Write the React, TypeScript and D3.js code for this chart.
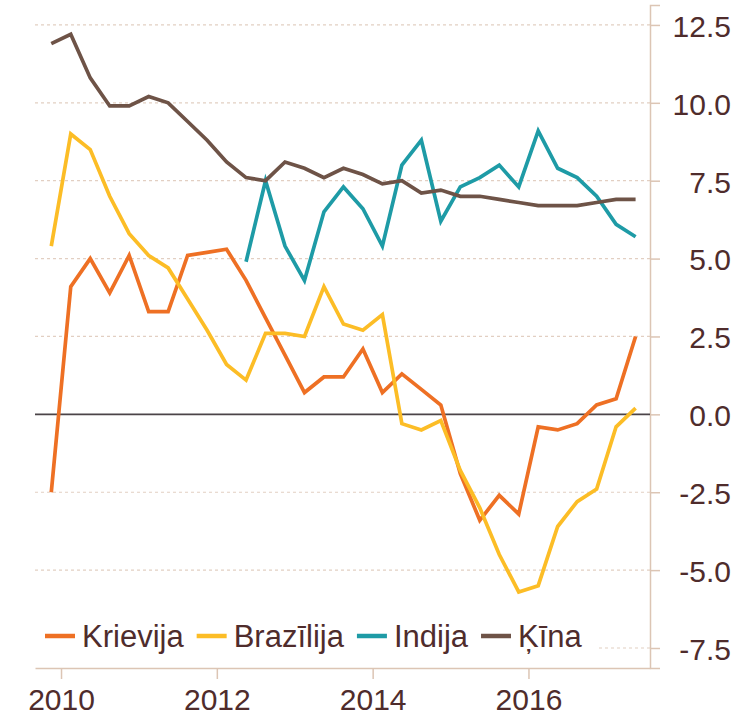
import React, { useEffect, useRef } from "react";
import * as d3 from "d3";

// quarterly GDP growth, % y/y, 2009Q4 .. 2017Q2
const quarters = [
  "2009Q4", "2010Q1", "2010Q2", "2010Q3", "2010Q4", "2011Q1", "2011Q2", "2011Q3", "2011Q4",
  "2012Q1", "2012Q2", "2012Q3", "2012Q4", "2013Q1", "2013Q2", "2013Q3", "2013Q4",
  "2014Q1", "2014Q2", "2014Q3", "2014Q4", "2015Q1", "2015Q2", "2015Q3", "2015Q4",
  "2016Q1", "2016Q2", "2016Q3", "2016Q4", "2017Q1", "2017Q2",
];

const russia = [-2.5, 4.1, 5.0, 3.9, 5.1, 3.3, 3.3, 5.1, 5.2, 5.3, 4.3, 3.1, 1.9, 0.7, 1.2, 1.2,
  2.1, 0.7, 1.3, 0.8, 0.3, -1.9, -3.4, -2.6, -3.2, -0.4, -0.5, -0.3, 0.3, 0.5, 2.5];
const brazil = [5.4, 9.0, 8.5, 7.0, 5.8, 5.1, 4.7, 3.7, 2.7, 1.6, 1.1, 2.6, 2.6, 2.5, 4.1, 2.9,
  2.7, 3.2, -0.3, -0.5, -0.2, -1.8, -3.0, -4.5, -5.7, -5.5, -3.6, -2.8, -2.4, -0.4, 0.2];
const india = [null, null, null, null, null, null, null, null, null, null,
  4.9, 7.5, 5.4, 4.3, 6.5, 7.3, 6.6, 5.4, 8.0, 8.8, 6.2, 7.3, 7.6, 8.0, 7.3, 9.1, 7.9, 7.6, 7.0, 6.1, 5.7];
const china = [11.9, 12.2, 10.8, 9.9, 9.9, 10.2, 10.0, 9.4, 8.8, 8.1, 7.6, 7.5, 8.1, 7.9, 7.6, 7.9,
  7.7, 7.4, 7.5, 7.1, 7.2, 7.0, 7.0, 6.9, 6.8, 6.7, 6.7, 6.7, 6.8, 6.9, 6.9];

const seriesNames = ["Krievija", "Brazīlija", "Indija", "Ķīna"];
const seriesColors = ["#ee7024", "#fcbd26", "#1e9ba6", "#6e5347"];
const yTicks = [12.5, 10, 7.5, 5, 2.5, 0, -2.5, -5, -7.5];
const xTicks = [2010, 2012, 2014, 2016];

const W = 736;
const H = 714;
const FONT = "'Liberation Sans', Arial, sans-serif";
const TEXT = "#4f2c2c";
const AXIS = "#dcc5b4";

export default function App() {
  const ref = useRef<SVGSVGElement>(null);

  useEffect(() => {
    const svg = d3.select(ref.current);
    svg.selectAll("*").remove();

    const left = 35, right = 650, top = 5, bottom = 668;

    const toTime = (q: string) => +q.slice(0, 4) + (+q.slice(5) - 0.5) / 4;

    const x = d3.scaleLinear().domain([2009.666, 2017.56]).range([left, right]);
    const y = d3.scaleLinear().domain([-8.142, 13.14]).range([bottom, top]);

    const fmt = (d: any) => d3.format(".1f")(d).replace("\u2212", "-");

    // grid
    svg.append("g")
      .selectAll("line")
      .data(yTicks.filter(d => d !== 0))
      .join("line")
      .attr("x1", left).attr("x2", right)
      .attr("y1", d => y(d)).attr("y2", d => y(d))
      .attr("stroke", "#e2cfc2")
      .attr("stroke-width", 1.2)
      .attr("stroke-dasharray", "3,3");

    // right axis
    const ya = svg.append("g").attr("transform", `translate(${right},0)`)
      .call(d3.axisRight(y).tickValues(yTicks).tickSize(10).tickPadding(0).tickFormat(fmt));
    ya.select(".domain").attr("stroke", AXIS).attr("stroke-width", 1.5);
    ya.selectAll(".tick line").attr("stroke", AXIS).attr("stroke-width", 1.5);
    ya.selectAll(".tick text")
      .attr("x", 81).attr("dy", "0.38em")
      .attr("text-anchor", "end")
      .attr("fill", TEXT)
      .style("font-family", FONT).style("font-size", "30px");

    // bottom axis
    const xa = svg.append("g").attr("transform", `translate(0,${bottom})`)
      .call(d3.axisBottom(x).tickValues(xTicks).tickSize(11).tickSizeOuter(0).tickPadding(10).tickFormat(d3.format("d")));
    xa.select(".domain").attr("stroke", AXIS).attr("stroke-width", 1.5);
    xa.selectAll(".tick line").attr("stroke", AXIS).attr("stroke-width", 1.5);
    xa.selectAll(".tick text")
      .attr("fill", TEXT)
      .style("font-family", FONT).style("font-size", "30px");

    // zero line
    svg.append("line")
      .attr("x1", left).attr("x2", right)
      .attr("y1", y(0)).attr("y2", y(0))
      .attr("stroke", "#4b4448").attr("stroke-width", 1.6);

    const allSeries = [russia, brazil, india, china];
    const line = d3.line<any>()
      .defined(d => d.v != null)
      .x(d => x(d.t))
      .y(d => y(d.v));

    allSeries.forEach((vals, k) => {
      const pts = quarters.map((q, i) => ({ t: toTime(q), v: vals[i] }));
      svg.append("path")
        .datum(pts)
        .attr("d", line)
        .attr("fill", "none")
        .attr("stroke", seriesColors[k])
        .attr("stroke-width", 3.7)
        .attr("stroke-linejoin", "miter")
        .attr("stroke-linecap", "butt");
    });

    // legend
    const lg = svg.append("g");
    lg.append("rect")
      .attr("x", left).attr("y", 615).attr("width", 563).attr("height", 48)
      .attr("fill", "#fff");
    let cx = 45;
    const ly = 636;
    seriesNames.forEach((name, k) => {
      lg.append("line")
        .attr("x1", cx).attr("x2", cx + 30)
        .attr("y1", ly).attr("y2", ly)
        .attr("stroke", seriesColors[k]).attr("stroke-width", 4.5);
      const t = lg.append("text")
        .attr("x", cx + 37).attr("y", ly + 11)
        .attr("fill", TEXT)
        .style("font-family", FONT).style("font-size", "31px")
        .text(name);
      const w = (t.node() as SVGTextElement).getComputedTextLength();
      cx = cx + 37 + w + 13;
    });
  }, []);

  return (
    <svg ref={ref} width={W} height={H}
      style={{ position: "absolute", left: 0, top: 0, background: "#fff" }} />
  );
}
